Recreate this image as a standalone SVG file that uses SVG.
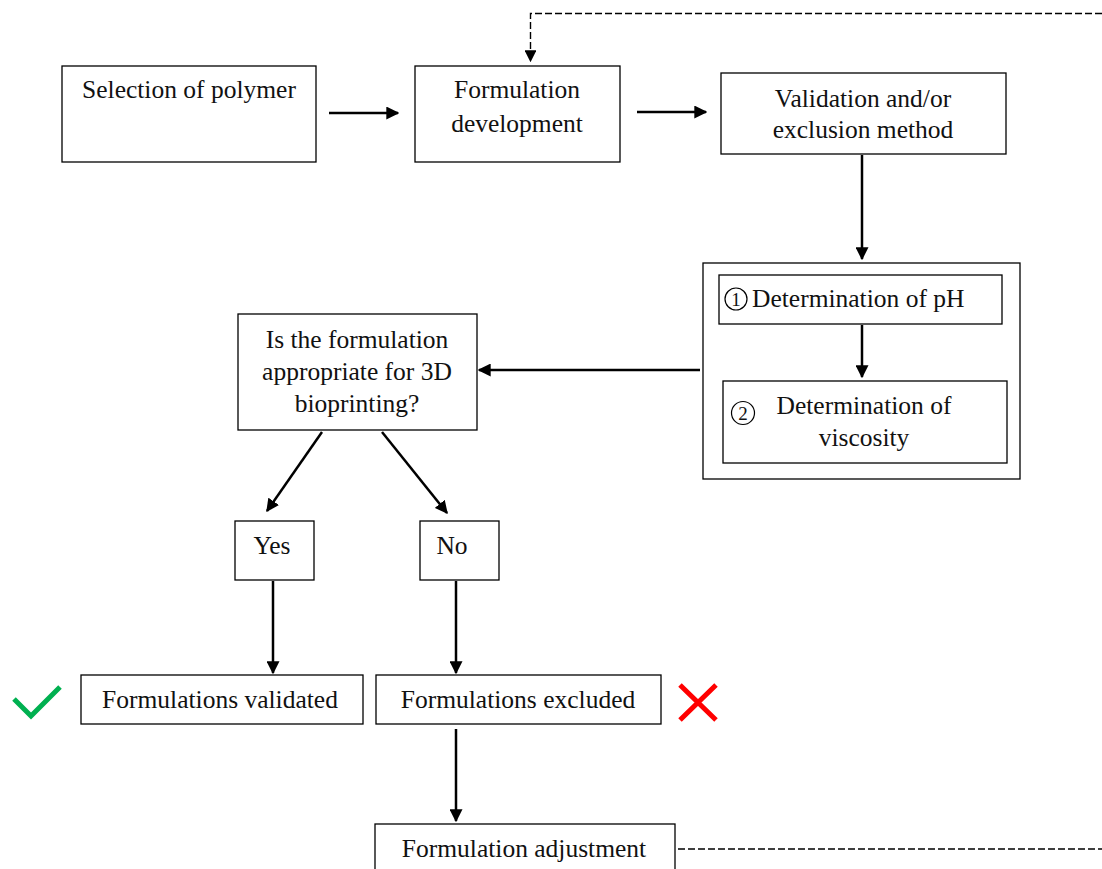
<svg xmlns="http://www.w3.org/2000/svg" width="1102" height="869" viewBox="0 0 1102 869">
<defs>
<style>
.box{fill:#fff;stroke:#000;stroke-width:1.3}
.t{font-family:"Liberation Serif","Times New Roman",serif;font-size:25.5px;fill:#111;text-anchor:middle}
.c{stroke:#000;stroke-width:2.5;fill:none}
.d{stroke:#000;stroke-width:1.4;fill:none;stroke-dasharray:7,3}
</style>
<marker id="ah" viewBox="0 0 10 10" refX="9" refY="5" markerWidth="5.2" markerHeight="5.2" markerUnits="strokeWidth" orient="auto">
<path d="M0,0 L10,5 L0,10 z" fill="#000"/>
</marker>
<marker id="ahs" viewBox="0 0 10 10" refX="9" refY="5" markerWidth="8.5" markerHeight="8.5" markerUnits="strokeWidth" orient="auto">
<path d="M0,0 L10,5 L0,10 z" fill="#000"/>
</marker>
</defs>
<rect width="1102" height="869" fill="#fff"/>
<g id="selection">
<rect class="box" x="62" y="66" width="254" height="96"/>
<text class="t" x="189" y="98">Selection of polymer</text>
</g>
<g id="formulation">
<rect class="box" x="415" y="66" width="205" height="96"/>
<text class="t" x="517" y="98">Formulation</text>
<text class="t" x="517" y="132">development</text>
</g>
<g id="validation">
<rect class="box" x="721" y="73" width="285" height="81"/>
<text class="t" x="863" y="107">Validation and/or</text>
<text class="t" x="863" y="138">exclusion method</text>
</g>
<g id="tests">
<rect class="box" x="703" y="263" width="317" height="216"/>
</g>
<g id="ph">
<rect class="box" x="719" y="275" width="283" height="49"/>
<circle cx="736" cy="299" r="11" fill="none" stroke="#000" stroke-width="1.2"/>
<text class="t" x="736" y="306" style="font-size:19px">1</text>
<text class="t" x="752" y="307" style="text-anchor:start">Determination of pH</text>
</g>
<g id="viscosity">
<rect class="box" x="723" y="381" width="284" height="82"/>
<circle cx="743" cy="413" r="11.5" fill="none" stroke="#000" stroke-width="1.2"/>
<text class="t" x="743" y="420" style="font-size:19px">2</text>
<text class="t" x="864" y="414">Determination of</text>
<text class="t" x="864" y="446">viscosity</text>
</g>
<g id="question">
<rect class="box" x="238" y="314" width="239" height="116"/>
<text class="t" x="357" y="348">Is the formulation</text>
<text class="t" x="357" y="380">appropriate for 3D</text>
<text class="t" x="357" y="412">bioprinting?</text>
</g>
<g id="yes">
<rect class="box" x="235" y="521" width="79" height="59"/>
<text class="t" x="272" y="554">Yes</text>
</g>
<g id="no">
<rect class="box" x="420" y="521" width="79" height="59"/>
<text class="t" x="452" y="554">No</text>
</g>
<g id="validated">
<rect class="box" x="81" y="675" width="282" height="49"/>
<text class="t" x="220" y="708">Formulations validated</text>
<polyline points="14,699 31,716 60,687" fill="none" stroke="#00b050" stroke-width="5"/>
</g>
<g id="excluded">
<rect class="box" x="376" y="675" width="285" height="49"/>
<text class="t" x="518" y="708">Formulations excluded</text>
<path d="M680,685 L716,720 M716,685 L680,720" stroke="#ff0000" stroke-width="5" fill="none"/>
</g>
<g id="adjustment">
<rect class="box" x="375" y="824" width="300" height="60"/>
<text class="t" x="524" y="857">Formulation adjustment</text>
</g>
<g id="connectors">
<line class="c" x1="329" y1="113" x2="398" y2="113" marker-end="url(#ah)"/>
<line class="c" x1="637" y1="112" x2="706" y2="112" marker-end="url(#ah)"/>
<line class="c" x1="862" y1="155" x2="862" y2="259" marker-end="url(#ah)"/>
<line class="c" x1="862" y1="325" x2="862" y2="377" marker-end="url(#ah)"/>
<line class="c" x1="700" y1="370" x2="479" y2="370" marker-end="url(#ah)"/>
<line class="c" x1="322" y1="432" x2="267" y2="511" marker-end="url(#ah)"/>
<line class="c" x1="382" y1="432" x2="447" y2="513" marker-end="url(#ah)"/>
<line class="c" x1="273" y1="581" x2="273" y2="673" marker-end="url(#ah)"/>
<line class="c" x1="456" y1="581" x2="456" y2="673" marker-end="url(#ah)"/>
<line class="c" x1="456" y1="729" x2="456" y2="821" marker-end="url(#ah)"/>
<path class="d" d="M678,849 L1102,849"/>
<path class="d" d="M1102,13.5 L530.5,13.5 L530.5,61" marker-end="url(#ahs)"/>
</g>
</svg>
